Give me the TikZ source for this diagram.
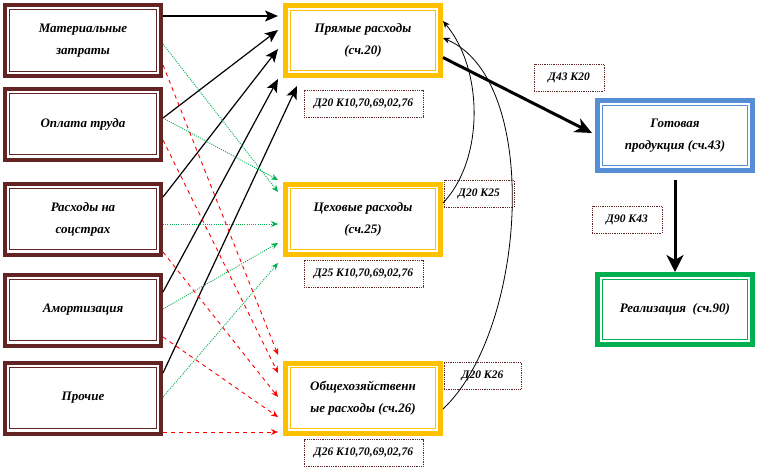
\documentclass[tikz,border=0pt]{standalone}
\usepackage{fontspec}
\setmainfont{Liberation Serif}
\usetikzlibrary{arrows.meta}
\definecolor{maroon}{HTML}{632423}
\definecolor{orng}{HTML}{FFC000}
\definecolor{blu}{HTML}{558ED5}
\definecolor{grn}{HTML}{00B050}
\definecolor{lblc}{HTML}{632423}
\begin{document}
\begin{tikzpicture}[x=1pt,y=-1pt,
  inner/.style 2 args={path picture={\draw[#1,line width=1.3pt]
     ([xshift=#2,yshift=-#2]path picture bounding box.north west) rectangle
     ([xshift=-#2,yshift=#2]path picture bounding box.south east);}},
  txt/.style={font=\fontsize{13}{22}\selectfont\bfseries\itshape, align=center},
  lbox/.style={draw=maroon, line width=4pt, minimum width=156pt, minimum height=71pt,
     inner sep=0pt, inner={maroon}{4.7pt}, txt},
  mbox/.style={draw=orng, line width=5pt, minimum width=155pt, minimum height=70pt,
     inner sep=0pt, inner={orng}{4.8pt}, txt},
  bbox/.style={draw=blu, line width=5pt, minimum width=155pt, minimum height=70pt,
     inner sep=0pt, inner={blu}{5.3pt}, txt},
  gbox/.style={draw=grn, line width=5pt, minimum width=155pt, minimum height=70pt,
     inner sep=0pt, inner={grn}{5.3pt}, txt},
  tag/.style={draw=lblc, densely dotted, line width=0.8pt, minimum height=27pt,
     inner sep=0pt, font=\fontsize{11.5}{12}\selectfont\bfseries\itshape},
  blk/.style={black, line width=1.2pt, -{Stealth[length=13pt,width=11pt,inset=3pt]}},
  gr/.style={grn, line width=0.9pt, dash pattern=on 1pt off 1.2pt, -{Stealth[length=7pt,width=6pt]}},
  rd/.style={red, line width=0.9pt, dash pattern=on 4pt off 4pt, -{Stealth[length=7pt,width=6pt]}},
  crv/.style={black, line width=0.8pt, -{Stealth[length=7pt,width=6pt]}},
]
\useasboundingbox (0,0) rectangle (757,469);

% left boxes
\node[lbox] (l1) at (83,40.5) {Материальные\\затраты};
\node[lbox] (l2) at (83,124) {Оплата труда};
\node[lbox] (l3) at (83,219) {Расходы на\\соцстрах};
\node[lbox] (l4) at (83,310) {Амортизация};
\node[lbox] (l5) at (83,398) {Прочие};

% middle boxes
\node[mbox] (p) at (363,40.5) {Прямые расходы\\(сч.20)};
\node[mbox] (c) at (363,219) {Цеховые расходы\\(сч.25)};
\node[mbox] (o) at (363,398) {Общехозяйственн\\ые расходы (сч.26)};

% right boxes
\node[bbox] (g) at (675,135.5) {Готовая\\продукция (сч.43)};
\node[gbox] (r) at (675,309.5) {Реализация\ \ (сч.90)};

% labels
\node[tag, minimum width=119pt] (t20) at (363.5,103.5) {Д20 К10,70,69,02,76};
\node[tag, minimum width=119pt] (t25) at (363.5,273.5) {Д25 К10,70,69,02,76};
\node[tag, minimum width=119pt] (t26) at (363.5,453) {Д26 К10,70,69,02,76};
\node[tag, minimum width=70pt] (t2025) at (479,193.5) {Д20 К25};
\node[tag, minimum width=77pt] (t2026) at (482.5,375.5) {Д20 К26};
\node[tag, minimum width=70pt] (t4320) at (569,77.5) {Д43 К20};
\node[tag, minimum width=70pt] (t9043) at (627,219.5) {Д90 К43};

% black arrows to p
\draw[blk] ([yshift=24.5pt]l1.east) -- ([xshift=-5pt,yshift=24.5pt]p.west);
\draw[blk] ([yshift=6pt]l2.east) -- ([xshift=-5pt,yshift=10.5pt]p.west);
\draw[blk] ([yshift=22pt]l3.east) -- ([xshift=-5pt,yshift=-8.5pt]p.west);
\draw[blk] ([yshift=18pt]l4.east) -- ([xshift=-5pt,yshift=-1pt]p.south west);
\draw[blk] ([yshift=25pt]l5.east) -- ([xshift=14pt,yshift=-8pt]p.south west);

% green arrows to c
\draw[gr] ([yshift=-3.5pt]l1.east) -- ([xshift=-5pt,yshift=27pt]c.west);
\draw[gr] ([yshift=6pt]l2.east) -- ([xshift=-5pt,yshift=39pt]c.west);
\draw[gr] ([yshift=-5pt]l3.east) -- ([xshift=-5pt,yshift=-5pt]c.west);
\draw[gr] ([yshift=1pt]l4.east) -- ([xshift=-5pt,yshift=-24pt]c.west);
\draw[gr] ([yshift=1pt]l5.east) -- ([xshift=-5pt,yshift=-44pt]c.west);

% red arrows to o
\draw[rd] ([yshift=-24.5pt]l1.east) -- ([xshift=-5pt,yshift=43pt]o.west);
\draw[rd] ([yshift=-16pt]l2.east) -- ([xshift=-5pt,yshift=25pt]o.west);
\draw[rd] ([yshift=-33pt]l3.east) -- ([xshift=-5pt,yshift=1pt]o.west);
\draw[rd] ([yshift=-27pt]l4.east) -- ([xshift=-5pt,yshift=-19pt]o.west);
\draw[rd] ([yshift=-34pt]l5.east) -- ([xshift=-5pt,yshift=-34pt]o.west);

% curved arrows back to p
\draw[crv] ([yshift=16pt]c.east) .. controls (484,160) and (484,70) .. ([yshift=19.5pt]p.east);
\draw[crv] ([yshift=-11pt]o.east) .. controls (527,330) and (542,80) .. ([yshift=2.5pt]p.east);

% thick arrows
\draw[black, line width=3pt, -{Stealth[length=17pt,width=15pt,inset=5pt]}]
  ([yshift=-17pt]p.east) -- ([xshift=-3pt,yshift=2.5pt]g.west);
\draw[black, line width=3pt, -{Stealth[length=17pt,width=17pt,inset=5pt]}]
  ([yshift=-7pt]g.south) -- (r.north);
\end{tikzpicture}
\end{document}
